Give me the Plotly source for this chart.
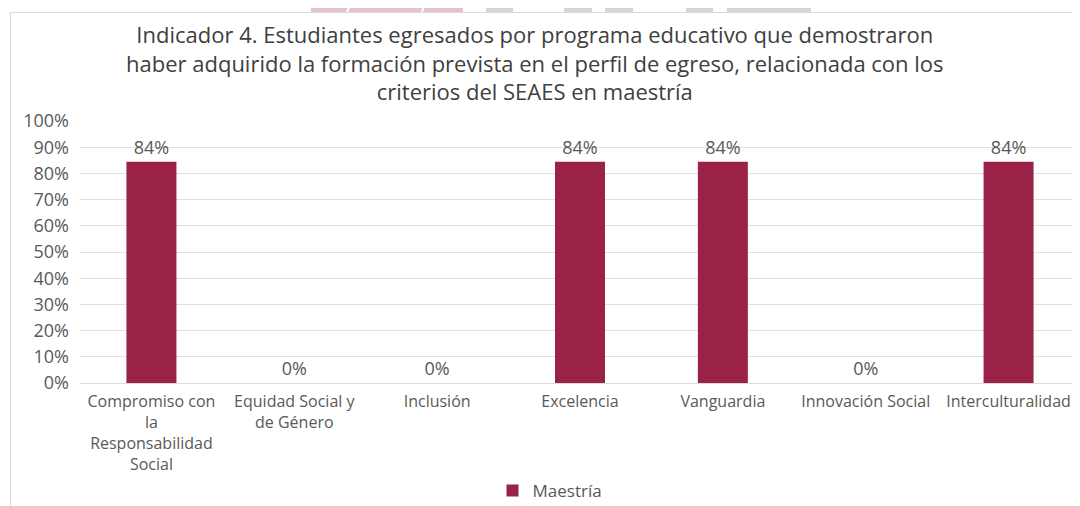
import plotly.graph_objects as go

categories = [
    "Compromiso con<br>la<br>Responsabilidad<br>Social",
    "Equidad Social y<br>de Género",
    "Inclusión",
    "Excelencia",
    "Vanguardia",
    "Innovación Social",
    "Interculturalidad",
]
values = [0.844, 0.0, 0.0, 0.844, 0.844, 0.0, 0.844]
series_name = "Maestría"
y_ticks = [0, 0.1, 0.2, 0.3, 0.4, 0.5, 0.6, 0.7, 0.8, 0.9, 1.0]
title_lines = [
    "Indicador 4. Estudiantes egresados por programa educativo que demostraron",
    "haber adquirido la formación prevista en el perfil de egreso, relacionada con los",
    "criterios del SEAES en maestría",
]

# page body has an 8px margin; design in reference-pixel coordinates and shift
OFF = 8
W, H = 1080 - OFF, 506 - OFF
L, R, T, B = 80 - OFF, 0, 121 - OFF, 506 - 383
PW, PH = W - L - R, H - T - B

def px(x):
    return (x - OFF - L) / PW

def py(y):
    return (H - B - (y - OFF)) / PH

FONT = "Open Sans"
BAR = "#9B2247"

fig = go.Figure()
fig.add_trace(go.Bar(
    x=categories, y=values, name=series_name,
    marker=dict(color=BAR, line=dict(width=0)),
    texttemplate="%{y:.0%}", textposition="outside",
    textfont=dict(family=FONT, size=18, color="#595959"),
    cliponaxis=False, showlegend=True,
))

shapes = []
# watermark strip at the top
pink = "#E4C4CB"
gray = "#D6D6D6"
for x0, x1, c in [(311, 463, pink), (486, 513, gray), (564, 592, gray), (605, 633, gray),
                  (686, 713, gray), (727, 811, gray)]:
    shapes.append(dict(type="rect", xref="paper", yref="paper", x0=px(x0), x1=px(x1),
                       y0=py(12), y1=py(0), fillcolor=c, line=dict(width=0), layer="below"))
for xa, xb in [(352, 347), (426, 422)]:
    shapes.append(dict(type="line", xref="paper", yref="paper", x0=px(xa), x1=px(xb),
                       y0=py(0), y1=py(12), line=dict(color="white", width=2), layer="below"))
# chart area border
shapes.append(dict(type="line", xref="paper", yref="paper", x0=px(10), x1=px(1080),
                   y0=py(12.5), y1=py(12.5), line=dict(color="#D9D9D9", width=1)))
shapes.append(dict(type="line", xref="paper", yref="paper", x0=px(10.5), x1=px(10.5),
                   y0=py(12), y1=py(506), line=dict(color="#D9D9D9", width=1)))

annotations = [dict(text="<br>".join(title_lines), xref="paper", yref="paper",
                    x=px(535), y=py(62), xanchor="center", yanchor="middle", align="center",
                    showarrow=False, font=dict(family=FONT, size=22, color="#404040"))]

fig.update_layout(
    width=W, height=H,
    margin=dict(l=L, r=R, t=T, b=B, autoexpand=False),
    paper_bgcolor="white", plot_bgcolor="white",
    bargap=0.65,
    font=dict(family=FONT, color="#595959"),
    xaxis=dict(showgrid=False, showline=True, linecolor="#D9D9D9", linewidth=1,
               ticks="", ticklabelstandoff=4,
               tickfont=dict(family=FONT, size=16, color="#595959"),
               fixedrange=True),
    yaxis=dict(range=[0, 1], tickvals=y_ticks, tickformat=".0%", showgrid=True,
               gridcolor="#E0E0E0", gridwidth=1, zeroline=False, showline=False,
               ticks="", ticklabelstandoff=10,
               tickfont=dict(family=FONT, size=18, color="#595959"), fixedrange=True),
    legend=dict(orientation="h", x=px(550), xanchor="center", y=py(491), yanchor="middle",
                font=dict(family=FONT, size=17, color="#595959"),
                itemwidth=30),
    shapes=shapes,
    annotations=annotations,
)

fig.write_html("out.html")
